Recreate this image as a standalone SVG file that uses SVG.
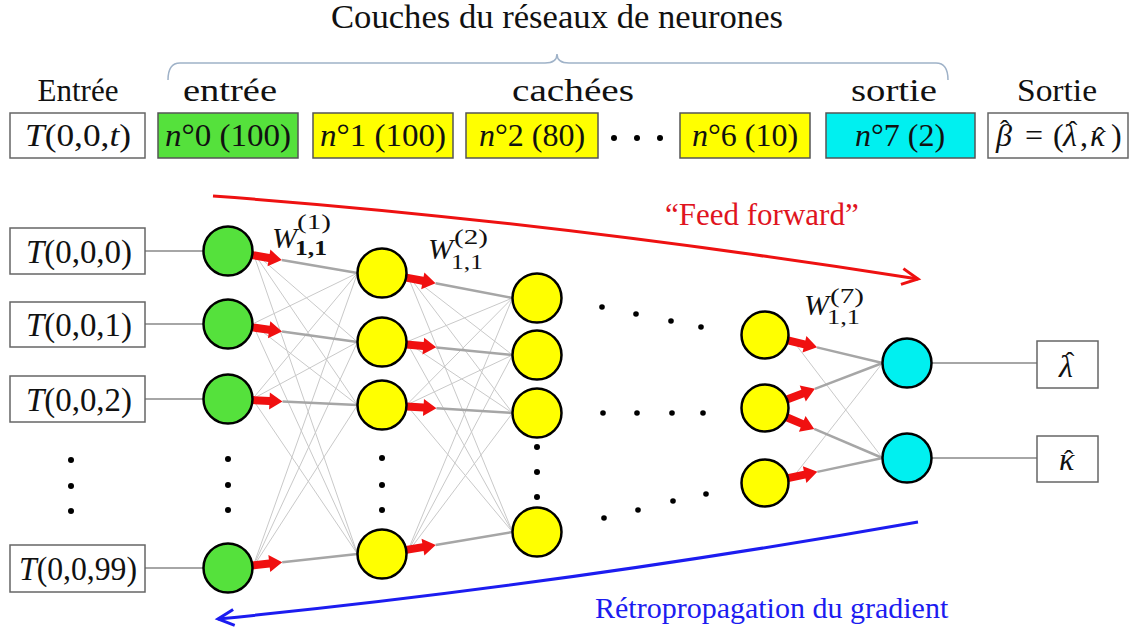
<svg xmlns="http://www.w3.org/2000/svg" width="1136" height="627" viewBox="0 0 1136 627">
<style>
text{font-family:"Liberation Serif","Times New Roman",serif;fill:#111}
.lbl{font-size:31px;text-anchor:middle}
.lbl2{font-size:32px;text-anchor:middle}
.m{font-size:32px;text-anchor:middle}
.mi{font-size:33px;text-anchor:middle}
.i{font-style:italic}
.box{fill:#fff;stroke:#666;stroke-width:1.5}
.node{stroke:#000;stroke-width:2.5}
.g{fill:#55e13c}
.y{fill:#ffff00}
.c{fill:#00f0f0}
.thin{stroke:#c9c9c9;stroke-width:1;fill:none}
.heavy{stroke:#a6a6a6;stroke-width:2.5;fill:none}
.io{stroke:#888;stroke-width:1.5;fill:none}
.dot{fill:#000}
.w{font-size:30px;font-style:italic}
.ws{font-size:22px}
</style>
<defs>
<path id="ra" d="M0,-4 L17,-4 L17,-8.5 L30,0 L17,8.5 L17,4 L0,4 Z" fill="#f01010"/>
<marker id="mr" markerUnits="userSpaceOnUse" markerWidth="22" markerHeight="22" refX="18" refY="10" orient="auto"><path d="M2,2 L18,10 L2,18" fill="none" stroke="#ee1111" stroke-width="3"/></marker>
<marker id="mb" markerUnits="userSpaceOnUse" markerWidth="22" markerHeight="22" refX="18" refY="10" orient="auto"><path d="M2,2 L18,10 L2,18" fill="none" stroke="#1c1cf0" stroke-width="3"/></marker>
</defs>
<rect width="1136" height="627" fill="#fff"/>

<g id="header">
<text class="lbl" x="557" y="28" style="font-size:34px" textLength="452" lengthAdjust="spacingAndGlyphs">Couches du réseaux de neurones</text>
<path d="M168,80 Q168,63 180,63 L545,63 Q557,63 557,54 Q557,63 569,63 L936,63 Q948,63 948,80" fill="none" stroke="#9fb2c8" stroke-width="1.5"/>
<text class="lbl" x="78" y="101">Entrée</text>
<text class="lbl2" x="230" y="101" textLength="94" lengthAdjust="spacingAndGlyphs">entrée</text>
<text class="lbl2" x="573" y="101" textLength="122" lengthAdjust="spacingAndGlyphs">cachées</text>
<text class="lbl2" x="894" y="101" textLength="86" lengthAdjust="spacingAndGlyphs">sortie</text>
<text class="lbl2" x="1057" y="101" textLength="80" lengthAdjust="spacingAndGlyphs">Sortie</text>
</g>

<g id="hdr-in"><rect class="box" x="10" y="113" width="135" height="45"/><text class="m" x="78" y="146" textLength="106" lengthAdjust="spacingAndGlyphs"><tspan class="i">T</tspan>(0,0,<tspan class="i">t</tspan>)</text></g>
<g id="hdr-l0"><rect x="158" y="113" width="140" height="45" fill="#55e13c" stroke="#555" stroke-width="1.5"/><text class="m" x="228" y="146" textLength="126" lengthAdjust="spacingAndGlyphs"><tspan class="i">n</tspan>°0 (100)</text></g>
<g id="hdr-l1"><rect x="313" y="113" width="140" height="45" fill="#ffff00" stroke="#555" stroke-width="1.5"/><text class="m" x="383" y="146" textLength="126" lengthAdjust="spacingAndGlyphs"><tspan class="i">n</tspan>°1 (100)</text></g>
<g id="hdr-l2"><rect x="466" y="113" width="132" height="45" fill="#ffff00" stroke="#555" stroke-width="1.5"/><text class="m" x="532" y="146"><tspan class="i">n</tspan>°2 (80)</text></g>
<g id="hdr-dots"><circle class="dot" cx="614" cy="138" r="3"/><circle class="dot" cx="637" cy="138" r="3"/><circle class="dot" cx="660" cy="138" r="3"/></g>
<g id="hdr-l6"><rect x="680" y="113" width="130" height="45" fill="#ffff00" stroke="#555" stroke-width="1.5"/><text class="m" x="745" y="146"><tspan class="i">n</tspan>°6 (10)</text></g>
<g id="hdr-l7"><rect x="826" y="113" width="149" height="45" fill="#00f0f0" stroke="#555" stroke-width="1.5"/><text class="m" x="900" y="146"><tspan class="i">n</tspan>°7 (2)</text></g>
<g id="hdr-out"><rect class="box" x="988" y="113" width="140" height="45"/>
<text y="146" style="font-size:32px"><tspan x="996" class="i">β</tspan><tspan x="1000" y="139" style="font-size:28px">ˆ</tspan><tspan x="1025" y="146">=</tspan><tspan x="1053">(</tspan><tspan x="1063" class="i">λ</tspan><tspan x="1068" y="140" style="font-size:28px">ˆ</tspan><tspan x="1080" y="146">,</tspan><tspan x="1090" class="i">κ</tspan><tspan x="1095" y="146" style="font-size:28px">ˆ</tspan><tspan x="1111">)</tspan></text>
</g>

<g id="connectors">
<line class="io" x1="145" y1="251" x2="204" y2="251"/>
<line class="io" x1="145" y1="324" x2="204" y2="324"/>
<line class="io" x1="145" y1="399" x2="204" y2="399"/>
<line class="io" x1="145" y1="568" x2="204" y2="568"/>
<line class="io" x1="931" y1="363" x2="1037" y2="363"/>
<line class="io" x1="931" y1="458" x2="1037" y2="458"/>
<g class="thin">
<line x1="252.5" y1="251" x2="357.5" y2="342"/><line x1="252.5" y1="251" x2="357.5" y2="405"/><line x1="252.5" y1="251" x2="357.5" y2="554"/>
<line x1="252.5" y1="324" x2="357.5" y2="273"/><line x1="252.5" y1="324" x2="357.5" y2="405"/><line x1="252.5" y1="324" x2="357.5" y2="554"/>
<line x1="252.5" y1="399" x2="357.5" y2="273"/><line x1="252.5" y1="399" x2="357.5" y2="342"/><line x1="252.5" y1="399" x2="357.5" y2="554"/>
<line x1="252.5" y1="568" x2="357.5" y2="273"/><line x1="252.5" y1="568" x2="357.5" y2="342"/><line x1="252.5" y1="568" x2="357.5" y2="405"/>
<line x1="406.5" y1="273" x2="512.5" y2="355"/><line x1="406.5" y1="273" x2="512.5" y2="413"/><line x1="406.5" y1="273" x2="512.5" y2="532"/>
<line x1="406.5" y1="342" x2="512.5" y2="298"/><line x1="406.5" y1="342" x2="512.5" y2="413"/><line x1="406.5" y1="342" x2="512.5" y2="532"/>
<line x1="406.5" y1="405" x2="512.5" y2="298"/><line x1="406.5" y1="405" x2="512.5" y2="355"/><line x1="406.5" y1="405" x2="512.5" y2="532"/>
<line x1="406.5" y1="554" x2="512.5" y2="298"/><line x1="406.5" y1="554" x2="512.5" y2="355"/><line x1="406.5" y1="554" x2="512.5" y2="413"/>
<line x1="788.5" y1="335" x2="882.5" y2="458"/><line x1="788.5" y1="483" x2="882.5" y2="363"/>
</g>
<g class="heavy">
<line x1="281.8" y1="260.1" x2="357.5" y2="273"/><line x1="282" y1="331.5" x2="357.5" y2="342"/><line x1="282.5" y1="401.5" x2="357.5" y2="405"/><line x1="282.2" y1="562.2" x2="357.5" y2="554"/>
<line x1="435.5" y1="283.3" x2="512.5" y2="298"/><line x1="436.3" y1="347.4" x2="512.5" y2="355"/><line x1="436.4" y1="408.3" x2="512.5" y2="413"/><line x1="435.7" y1="544.9" x2="512.5" y2="532"/>
<line x1="817" y1="347.4" x2="882.5" y2="363"/><line x1="814.9" y1="388.9" x2="882.5" y2="363"/><line x1="814.2" y1="428.9" x2="882.5" y2="458"/><line x1="817.3" y1="471.9" x2="882.5" y2="458"/>
</g>
<g id="red-arrows">
<use href="#ra" transform="translate(252.2,255.1) rotate(9.64)"/>
<use href="#ra" transform="translate(252.3,327.4) rotate(7.91)"/>
<use href="#ra" transform="translate(252.5,400.1) rotate(2.65)"/>
<use href="#ra" transform="translate(252.4,565.4) rotate(-6.17)"/>
<use href="#ra" transform="translate(406.1,277.6) rotate(10.85)"/>
<use href="#ra" transform="translate(406.4,344.4) rotate(5.69)"/>
<use href="#ra" transform="translate(406.5,406.5) rotate(3.51)"/>
<use href="#ra" transform="translate(406.2,549.9) rotate(-9.57)"/>
<use href="#ra" transform="translate(787.9,340.4) rotate(13.4)"/>
<use href="#ra" transform="translate(786.9,399.6) rotate(-20.95)"/>
<use href="#ra" transform="translate(786.6,417.2) rotate(23.05)"/>
<use href="#ra" transform="translate(788,478.1) rotate(-12.01)"/>
</g>
<path id="feed-forward" d="M213,196 Q540,220 918,279" fill="none" stroke="#ee1111" stroke-width="3" marker-end="url(#mr)"/>
<path id="backprop" d="M918,522 Q560,585 218,619" fill="none" stroke="#1c1cf0" stroke-width="3" marker-end="url(#mb)"/>
</g>

<text x="665" y="225" font-size="31" style="fill:#e0141e">“Feed forward”</text>
<text x="595" y="618" font-size="30" style="fill:#1c1cf0">Rétropropagation du gradient</text>

<g id="w1"><text class="w" x="272" y="248">W</text><text class="ws" x="295" y="255" font-weight="bold" textLength="32" lengthAdjust="spacingAndGlyphs">1,1</text><text class="ws" x="297" y="229" textLength="34" lengthAdjust="spacingAndGlyphs">(1)</text></g>
<g id="w2"><text class="w" x="428" y="259">W</text><text class="ws" x="451" y="269" textLength="32" lengthAdjust="spacingAndGlyphs">1,1</text><text class="ws" x="454" y="244" textLength="34" lengthAdjust="spacingAndGlyphs">(2)</text></g>
<g id="w7"><text class="w" x="804" y="315">W</text><text class="ws" x="827" y="324" textLength="33" lengthAdjust="spacingAndGlyphs">1,1</text><text class="ws" x="830" y="303" textLength="34" lengthAdjust="spacingAndGlyphs">(7)</text></g>

<g id="in0"><rect class="box" x="10" y="228" width="135" height="46"/><text class="mi" x="79" y="263" textLength="106" lengthAdjust="spacingAndGlyphs"><tspan class="i">T</tspan>(0,0,0)</text></g>
<g id="in1"><rect class="box" x="10" y="302" width="135" height="45"/><text class="mi" x="79" y="336" textLength="106" lengthAdjust="spacingAndGlyphs"><tspan class="i">T</tspan>(0,0,1)</text></g>
<g id="in2"><rect class="box" x="10" y="376" width="135" height="46"/><text class="mi" x="79" y="411" textLength="106" lengthAdjust="spacingAndGlyphs"><tspan class="i">T</tspan>(0,0,2)</text></g>
<g id="in-dots"><circle class="dot" cx="71" cy="460" r="3"/><circle class="dot" cx="71" cy="486" r="3"/><circle class="dot" cx="71" cy="511" r="3"/></g>
<g id="in99"><rect class="box" x="10" y="545" width="135" height="47"/><text class="mi" x="78" y="580" textLength="118" lengthAdjust="spacingAndGlyphs"><tspan class="i">T</tspan>(0,0,99)</text></g>

<g id="l0n0"><circle class="node g" cx="228" cy="251" r="24.5"/></g>
<g id="l0n1"><circle class="node g" cx="228" cy="324" r="24.5"/></g>
<g id="l0n2"><circle class="node g" cx="228" cy="399" r="24.5"/></g>
<g id="l0dots"><circle class="dot" cx="228" cy="459" r="3"/><circle class="dot" cx="228" cy="485" r="3"/><circle class="dot" cx="228" cy="510" r="3"/></g>
<g id="l0n99"><circle class="node g" cx="228" cy="568" r="24.5"/></g>

<g id="l1n0"><circle class="node y" cx="382" cy="273" r="24.5"/></g>
<g id="l1n1"><circle class="node y" cx="382" cy="342" r="24.5"/></g>
<g id="l1n2"><circle class="node y" cx="382" cy="405" r="24.5"/></g>
<g id="l1dots"><circle class="dot" cx="382" cy="458" r="3"/><circle class="dot" cx="382" cy="485" r="3"/><circle class="dot" cx="382" cy="510" r="3"/></g>
<g id="l1n99"><circle class="node y" cx="382" cy="554" r="24.5"/></g>

<g id="l2n0"><circle class="node y" cx="537" cy="298" r="24.5"/></g>
<g id="l2n1"><circle class="node y" cx="537" cy="355" r="24.5"/></g>
<g id="l2n2"><circle class="node y" cx="537" cy="413" r="24.5"/></g>
<g id="l2dots"><circle class="dot" cx="537" cy="447" r="3"/><circle class="dot" cx="537" cy="472" r="3"/><circle class="dot" cx="537" cy="497" r="3"/></g>
<g id="l2n79"><circle class="node y" cx="537" cy="532" r="24.5"/></g>

<g id="mid-dots">
<circle class="dot" cx="602" cy="307" r="2.8"/><circle class="dot" cx="636" cy="314" r="2.8"/><circle class="dot" cx="671" cy="321" r="2.8"/><circle class="dot" cx="701" cy="327" r="2.8"/>
<circle class="dot" cx="603" cy="413" r="2.8"/><circle class="dot" cx="637" cy="413" r="2.8"/><circle class="dot" cx="672" cy="413" r="2.8"/><circle class="dot" cx="703" cy="413" r="2.8"/>
<circle class="dot" cx="604" cy="518" r="2.8"/><circle class="dot" cx="638" cy="510" r="2.8"/><circle class="dot" cx="673" cy="501" r="2.8"/><circle class="dot" cx="706" cy="494" r="2.8"/>
</g>

<g id="l6n0"><circle class="node y" cx="765" cy="335" r="23.5"/></g>
<g id="l6n1"><circle class="node y" cx="765" cy="408" r="23.5"/></g>
<g id="l6n2"><circle class="node y" cx="765" cy="483" r="23.5"/></g>

<g id="l7n0"><circle class="node c" cx="907" cy="363" r="24.5"/></g>
<g id="l7n1"><circle class="node c" cx="907" cy="458" r="24.5"/></g>

<g id="out-lambda"><rect class="box" x="1037" y="341" width="61" height="47"/><text style="font-size:32px" y="377"><tspan x="1059" class="i">λ</tspan><tspan x="1065" y="371" style="font-size:28px">ˆ</tspan></text></g>
<g id="out-kappa"><rect class="box" x="1037" y="436" width="61" height="46"/><text style="font-size:32px" y="470"><tspan x="1059" class="i">κ</tspan><tspan x="1064" y="469" style="font-size:28px">ˆ</tspan></text></g>
</svg>
